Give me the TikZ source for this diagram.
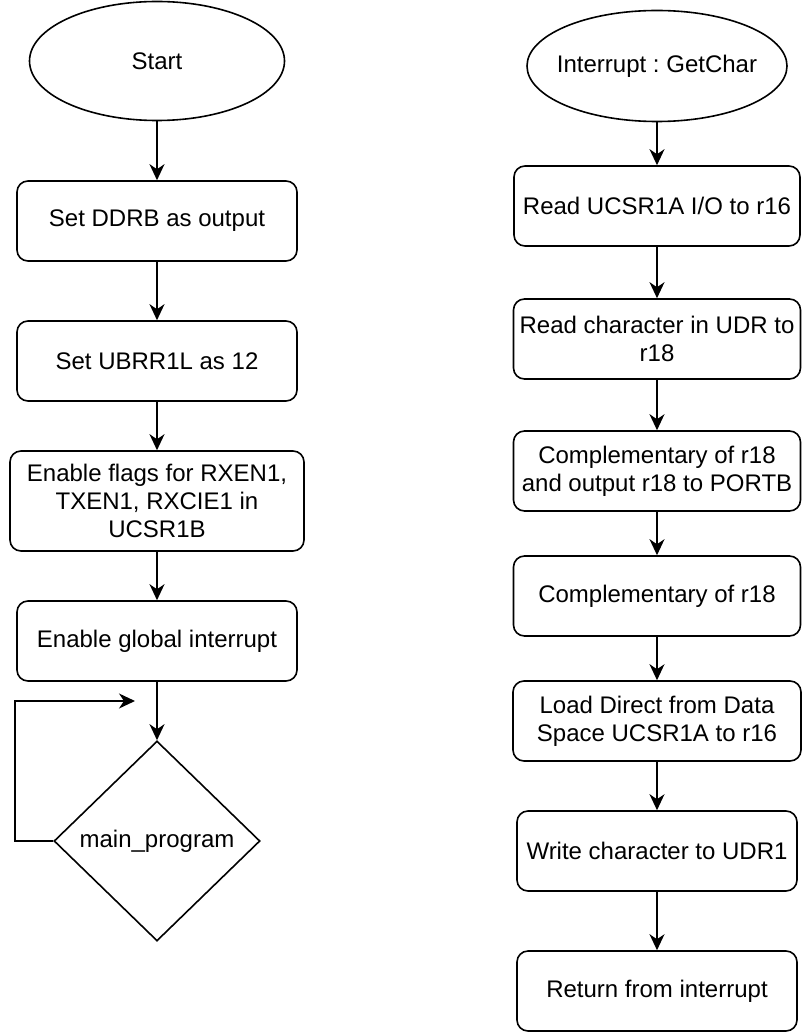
\documentclass[tikz,border=0pt]{standalone}
\usepackage{fontspec}
\setmainfont{Liberation Sans}
\usetikzlibrary{shapes.geometric,arrows.meta}
\frenchspacing
\begin{document}
\begin{tikzpicture}[x=1pt,y=-1pt,
  every node/.style={font=\fontsize{24}{28}\selectfont\frenchspacing, align=center, inner sep=0pt, line width=1.6pt},
  procbox/.style={draw, rectangle, rounded corners=11pt, minimum height=80pt},
  term/.style={draw, ellipse},
  decis/.style={draw, diamond, minimum width=206pt, minimum height=200pt},
  arr/.style={line width=1.6pt, -{Stealth[length=16pt,width=15pt,inset=5pt]}}]
\useasboundingbox (0,0) rectangle (802,1032);
% left column
\node[term, minimum width=255pt, minimum height=119pt] (start) at (157,61) {Start};
\node[procbox, minimum width=280pt] (b1) at (157,221) {Set DDRB as output};
\node[procbox, minimum width=280pt] (b2) at (157,361) {Set UBRR1L as 12};
\node[procbox, minimum width=294pt, minimum height=100pt] (b3) at (157,501) {Enable flags for RXEN1,\\TXEN1, RXCIE1 in\\UCSR1B};
\node[procbox, minimum width=280pt] (b4) at (157,641) {Enable global interrupt};
\node[decis] (dia) at (157,841) {main\_program};
\coordinate (loopend) at (135,701);
\draw[arr] (start) -- (b1);
\draw[arr] (b1) -- (b2);
\draw[arr] (b2) -- (b3);
\draw[arr] (b3) -- (b4);
\draw[arr] (b4) -- (dia);
\draw[arr] (dia.west) -- (15,841) -- (15,701) -- (loopend);
% right column
\node[term, minimum width=260pt, minimum height=111pt, label={[draw=none]center:Interrupt : GetChar}] (int) at (657,66) {};
\node[procbox, minimum width=286pt] (r1) at (657,206) {Read UCSR1A I/O to r16};
\node[procbox, minimum width=287pt] (r2) at (657,339) {Read character in UDR to\\r18};
\node[procbox, minimum width=287pt] (r3) at (657,471) {Complementary of r18\\and output r18 to PORTB};
\node[procbox, minimum width=287pt] (r4) at (657,596) {Complementary of r18};
\node[procbox, minimum width=288pt] (r5) at (657,721) {Load Direct from Data\\Space UCSR1A to r16};
\node[procbox, minimum width=280pt] (r6) at (657,851) {Write character to UDR1};
\node[procbox, minimum width=280pt] (r7) at (657,991) {Return from interrupt};
\draw[arr] (int) -- (r1);
\draw[arr] (r1) -- (r2);
\draw[arr] (r2) -- (r3);
\draw[arr] (r3) -- (r4);
\draw[arr] (r4) -- (r5);
\draw[arr] (r5) -- (r6);
\draw[arr] (r6) -- (r7);
\end{tikzpicture}
\end{document}
